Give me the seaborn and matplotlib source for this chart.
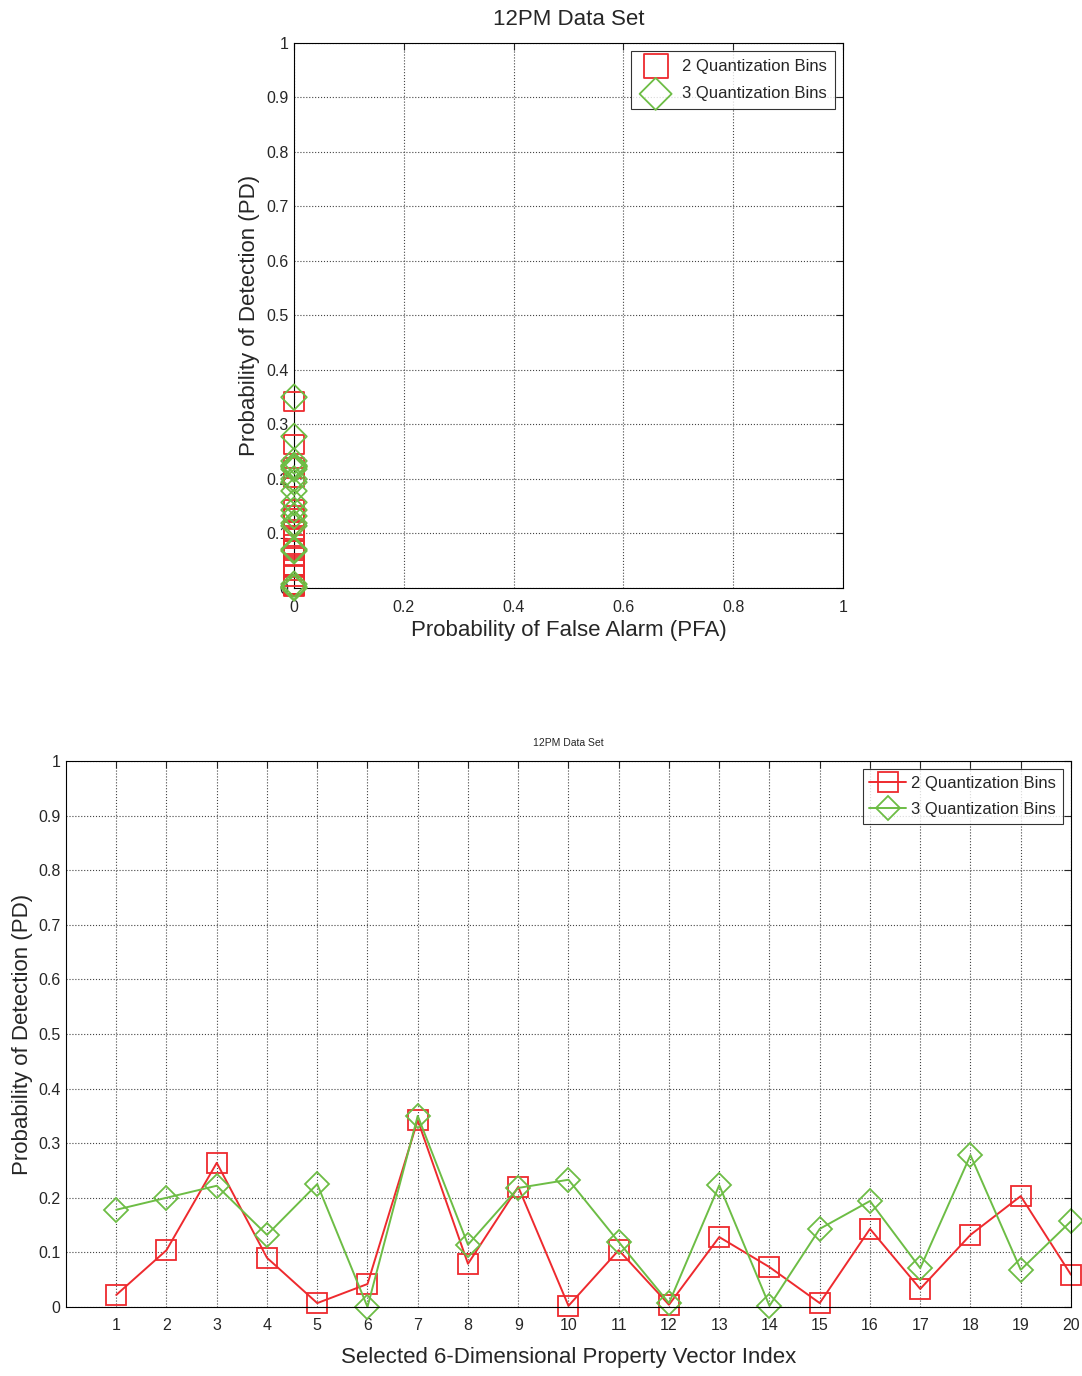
import numpy as np
import pandas as pd
import matplotlib
matplotlib.use('Agg')
import matplotlib.pyplot as plt
import seaborn as sns

sns.set_style('white')
plt.rcParams['font.family'] = ['Liberation Sans', 'DejaVu Sans']

# datos
indice = list(range(1, 21))
pd_2bins = [0.022, 0.104, 0.264, 0.090, 0.007, 0.042, 0.342, 0.079, 0.220, 0.002,
            0.104, 0.004, 0.128, 0.073, 0.007, 0.143, 0.033, 0.132, 0.203, 0.059]
pd_3bins = [0.178, 0.200, 0.222, 0.132, 0.225, 0.000, 0.350, 0.114, 0.218, 0.233,
            0.119, 0.007, 0.223, 0.002, 0.143, 0.194, 0.071, 0.278, 0.068, 0.157]
pfa_2bins = [0.0] * 20
pfa_3bins = [0.0] * 20
series = ['2 Quantization Bins', '3 Quantization Bins']

ROJO, VERDE = '#ee2a2e', '#6dbd45'

df = pd.DataFrame({
    'idx': indice * 2,
    'pfa': pfa_2bins + pfa_3bins,
    'pd': pd_2bins + pd_3bins,
    'serie': [series[0]] * 20 + [series[1]] * 20,
})

fig = plt.figure(figsize=(10.82, 13.76), dpi=100)

def estilo_matlab(ax, xpad):
    ax.grid(True, linestyle=':', color='#444444', linewidth=0.8)
    ax.tick_params(direction='in', length=5, labelsize=11.5, top=True, right=True)
    ax.tick_params(axis='x', pad=xpad)
    ax.tick_params(axis='y', pad=4)
    for s in ax.spines.values():
        s.set_color('black'); s.set_linewidth(0.8)

# Primero - PD vs PFA
ax1 = fig.add_axes([0.2717, 0.5727, 0.5074, 0.3961])
for serie, col, mk, sz in [(series[0], ROJO, 's', 190), (series[1], VERDE, 'D', 170)]:
    sub = df[df['serie'] == serie]
    sns.scatterplot(data=sub, x='pfa', y='pd', ax=ax1, marker=mk, s=sz,
                    facecolors='none', edgecolor=col, linewidth=1.3,
                    label=serie, clip_on=False, zorder=3)
ax1.set_xlim(0, 1); ax1.set_ylim(0, 1)
ax1.set_xticks(np.arange(0, 1.01, 0.2)); ax1.set_yticks(np.arange(0, 1.01, 0.1))
ax1.set_xticklabels(['0', '0.2', '0.4', '0.6', '0.8', '1'])
ax1.set_yticklabels(['0'] + [f'{v:.1f}' for v in np.arange(0.1, 0.95, 0.1)] + ['1'])
estilo_matlab(ax1, 8.5)
ax1.set_title('12PM Data Set', fontsize=16, pad=13)
ax1.set_xlabel('Probability of False Alarm (PFA)', fontsize=16, labelpad=4)
ax1.set_ylabel('Probability of Detection (PD)', fontsize=16)
leg1 = ax1.legend(loc='upper right', fontsize=12, frameon=True, fancybox=False,
                  edgecolor='black', borderpad=0.45, handletextpad=0.6,
                  labelspacing=0.75, markerscale=1.25)
leg1.get_frame().set_linewidth(0.8)

# Segundo - PD por indice
ax2 = fig.add_axes([0.061, 0.0502, 0.9288, 0.3967])
for serie, col, mk, ms in [(series[0], ROJO, 's', 15), (series[1], VERDE, 'D', 12)]:
    sub = df[df['serie'] == serie]
    sns.lineplot(data=sub, x='idx', y='pd', ax=ax2, color=col, marker=mk,
                 markersize=ms, markerfacecolor='none', markeredgecolor=col,
                 markeredgewidth=1.3, linewidth=1.4, label=serie, clip_on=False)
ax2.set_xlim(0, 20); ax2.set_ylim(0, 1)
ax2.set_xticks(indice); ax2.set_yticks(np.arange(0, 1.01, 0.1))
ax2.set_yticklabels(['0'] + [f'{v:.1f}' for v in np.arange(0.1, 0.95, 0.1)] + ['1'])
estilo_matlab(ax2, 8)
ax2.set_title('12PM Data Set', fontsize=7.5, pad=11)
ax2.set_xlabel('Selected 6-Dimensional Property Vector Index', fontsize=16, labelpad=10)
ax2.set_ylabel('Probability of Detection (PD)', fontsize=16)
leg2 = ax2.legend(loc='upper right', fontsize=12, frameon=True, fancybox=False,
                  edgecolor='black', borderpad=0.4, handletextpad=0.3,
                  handlelength=2.2, labelspacing=0.65)
leg2.get_frame().set_linewidth(0.8)

plt.savefig('out.png', dpi=100)
